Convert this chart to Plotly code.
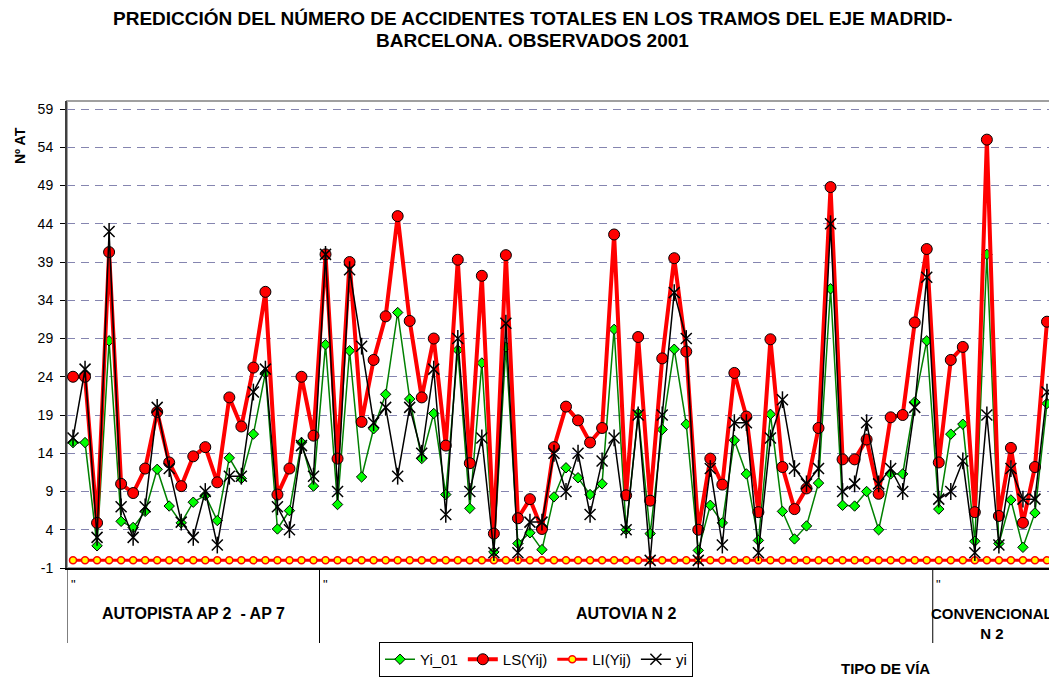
import plotly.graph_objects as go

# ---------------- data ----------------
groups = ["AUTOPISTA AP 2  - AP 7", "AUTOVIA N 2", "CONVENCIONAL<br>N 2"]
group_sizes = [21, 51, 10]
sub_label = '"'

yi_01 = [15.4, 15.4, 1.9, 28.7, 5.1, 4.3, 6.4, 11.9, 7.1, 4.9, 7.6, 8.5, 5.2, 13.4, 10.7, 16.5, 24.5, 4.1, 6.5, 15.4, 9.7,
         28.2, 7.3, 27.4, 10.9, 17.2, 21.7, 32.4, 21.1, 13.3, 19.2, 8.6, 27.5, 6.8, 25.8, 1.1, 27.9, 2.2, 3.6, 1.4, 8.3,
         12.1, 10.8, 8.6, 10.0, 30.2, 4.0, 19.2, 3.5, 17.1, 27.6, 17.8, 1.3, 7.2, 4.9, 15.7, 11.3, 2.6, 19.1, 6.4, 2.8,
         4.5, 10.1, 35.5, 7.2, 7.1, 9.0, 4.0, 11.3, 11.3, 20.7, 28.7, 6.7, 16.5, 17.8, 2.5, 40.0, 2.2, 7.9, 1.7, 6.2, 20.5]

ls_yij = [24.0, 24.0, 4.9, 40.3, 10.0, 8.8, 12.0, 19.4, 12.8, 9.7, 13.6, 14.8, 10.2, 21.3, 17.5, 25.2, 35.1, 8.6, 12.0, 24.0, 16.3,
          40.0, 13.3, 39.0, 18.1, 26.2, 31.9, 45.0, 31.3, 21.3, 29.0, 15.0, 39.3, 12.7, 37.2, 3.5, 39.9, 5.5, 8.0, 4.1, 14.8,
          20.1, 18.3, 15.4, 17.3, 42.6, 8.5, 29.2, 7.8, 26.4, 39.5, 27.3, 4.0, 13.3, 9.9, 24.5, 18.8, 6.3, 28.9, 12.2, 6.7,
          9.4, 17.3, 48.8, 13.2, 13.2, 15.8, 8.7, 18.7, 19.0, 31.1, 40.7, 12.8, 26.2, 27.9, 6.3, 55.0, 5.8, 14.7, 4.9, 12.2, 31.2]

li_yij = [0] * 82

yi = [16, 25, 3, 43, 7, 3, 7, 20, 12, 5, 3, 9, 2, 11, 11, 22, 25, 7, 4, 15, 11,
      40, 9, 38, 28, 18, 20, 11, 20, 14, 25, 6, 29, 9, 16, 1, 31, 1, 5, 5, 14,
      9, 14, 6, 13, 16, 4, 19, 0, 19, 35, 29, 0, 12, 2, 18, 18, 1, 16, 21, 12,
      10, 12, 44, 9, 10, 18, 10, 12, 9, 20, 37, 8, 9, 13, 1, 19, 2, 12, 8, 8, 22]

y_ticks = [-1, 4, 9, 14, 19, 24, 29, 34, 39, 44, 49, 54, 59]

categories = list(range(len(yi)))

# ---------------- layout geometry ----------------
# the page body has an 8px margin, so the figure starts at (8, 8) on screen
OFF = 8
SCR_W, SCR_H = 1057, 677
W, H = SCR_W - OFF, SCR_H - OFF
# plot area on screen: x 67..1053, y 101..568
L, T = 67 - OFF, 101 - OFF
R = W - (1053 - OFF)
B = H - (568 - OFF)
pw, ph = W - L - R, H - T - B


def px_x(p):  # screen px -> paper x
    return (p - OFF - L) / pw


def px_y(p):  # screen px -> paper y
    return (568 - p) / ph


FONT = "Liberation Sans, Arial, sans-serif"

fig = go.Figure()

fig.add_trace(go.Scatter(
    x=categories, y=yi_01, name="Yi_01", mode="lines+markers",
    line=dict(color="#008000", width=1.5),
    marker=dict(symbol="diamond", size=8, color="#00FF00", line=dict(color="black", width=1)),
))
fig.add_trace(go.Scatter(
    x=categories, y=ls_yij, name="LS(Yij)", mode="lines+markers",
    line=dict(color="#FF0000", width=4),
    marker=dict(symbol="circle", size=11, color="#FF0000", line=dict(color="black", width=1)),
))
fig.add_trace(go.Scatter(
    x=categories, y=li_yij, name="LI(Yij)", mode="lines+markers",
    line=dict(color="#FF0000", width=3),
    marker=dict(symbol="circle", size=7, color="#FFFF00", line=dict(color="#FF0000", width=1.5)),
))
fig.add_trace(go.Scatter(
    x=categories, y=yi, name="yi", mode="lines+markers",
    line=dict(color="black", width=1.5),
    marker=dict(symbol="x-thin-open", size=11, color="black", line=dict(color="black", width=1.5)),
))
fig.add_trace(go.Scatter(
    x=categories, y=yi, name="yi", mode="markers", showlegend=False,
    marker=dict(symbol="line-ns-open", size=12, color="black", line=dict(color="black", width=1.5)),
))

n = len(categories)
fig.update_xaxes(
    range=[-0.5, n - 0.5], showgrid=False, zeroline=False,
    showticklabels=False, ticks="", showline=True, linecolor="black", linewidth=1.5,
)
fig.update_yaxes(
    range=[-1, 60.05], tickvals=y_ticks, ticktext=[str(v) for v in y_ticks],
    showgrid=True, gridcolor="#8585B0", gridwidth=1, griddash="8px,6px",
    zeroline=False, ticks="outside", ticklen=5, tickcolor="black",
    showline=True, linecolor="#404040", linewidth=2,
    tickfont=dict(family=FONT, size=14, color="black"),
    ticklabelstandoff=4,
)

shapes = [
    dict(type="rect", xref="paper", yref="paper", x0=0, x1=1, y0=0, y1=1,
         line=dict(color="#A0A0A0", width=2), layer="below"),
]
annotations = []

# group separators and labels
start = 0
sep_bottom = px_y(643)
for gi, (name, size) in enumerate(zip(groups, group_sizes)):
    shapes.append(dict(type="line", xref="x", yref="paper", x0=start - 0.5, x1=start - 0.5,
                       y0=0, y1=sep_bottom, line=dict(color="black", width=1)))
    annotations.append(dict(xref="x", yref="paper", x=start, y=px_y(584), text=sub_label,
                            showarrow=False, font=dict(family=FONT, size=13, color="black"),
                            xanchor="center", yanchor="middle"))
    center = start + (size - 1) / 2
    last = gi == len(groups) - 1
    annotations.append(dict(xref="x", yref="paper", x=center, y=px_y(613),
                            text="<b>" + name + "</b>", showarrow=False,
                            font=dict(family=FONT, size=15 if last else 16, color="black"),
                            xanchor="center", yanchor="top", yshift=10,
                            xshift=-1 if last else 0))
    start += size
shapes.append(dict(type="line", xref="x", yref="paper", x0=start - 0.5, x1=start - 0.5,
                   y0=0, y1=sep_bottom, line=dict(color="black", width=1)))

# titles
annotations.append(dict(xref="paper", yref="paper", x=px_x(532), y=px_y(18),
                        text="<b>PREDICCIÓN DEL NÚMERO DE ACCIDENTES TOTALES EN LOS TRAMOS DEL EJE MADRID-</b>",
                        showarrow=False, font=dict(family=FONT, size=19, color="black"),
                        xanchor="center", yanchor="middle"))
annotations.append(dict(xref="paper", yref="paper", x=px_x(532), y=px_y(41),
                        text="<b>BARCELONA. OBSERVADOS 2001</b>",
                        showarrow=False, font=dict(family=FONT, size=19, color="black"),
                        xanchor="center", yanchor="middle"))
annotations.append(dict(xref="paper", yref="paper", x=px_x(20), y=px_y(146),
                        text="<b>Nº AT</b>", textangle=-90, showarrow=False,
                        font=dict(family=FONT, size=14, color="black"),
                        xanchor="center", yanchor="middle"))
annotations.append(dict(xref="paper", yref="paper", x=px_x(885), y=px_y(668),
                        text="<b>TIPO DE VÍA</b>", showarrow=False,
                        font=dict(family=FONT, size=15, color="black"),
                        xanchor="center", yanchor="middle"))

fig.update_layout(
    width=W, height=H,
    margin=dict(l=L, r=R, t=T, b=B, autoexpand=False),
    paper_bgcolor="white", plot_bgcolor="white",
    font=dict(family=FONT, color="black"),
    showlegend=True,
    legend=dict(orientation="h", x=px_x(379), y=px_y(642), xanchor="left", yanchor="top",
                bordercolor="black", borderwidth=1, bgcolor="white",
                font=dict(family=FONT, size=15, color="black"),
                itemwidth=30, tracegroupgap=0),
    shapes=shapes,
    annotations=annotations,
)

fig.write_html("out.html")
